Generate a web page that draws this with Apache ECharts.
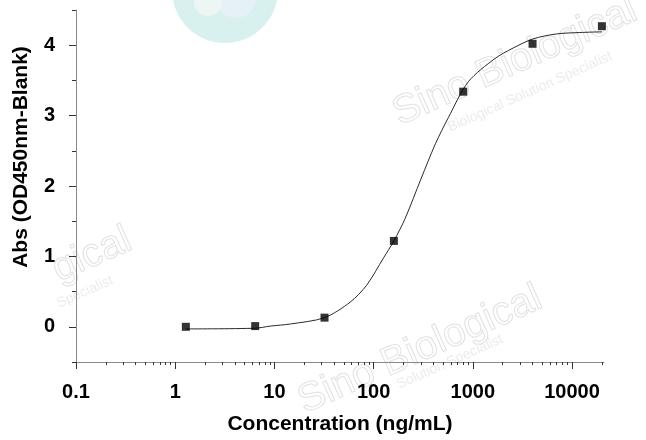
<!DOCTYPE html>
<html>
<head>
<meta charset="utf-8">
<script src="https://cdn.jsdelivr.net/npm/echarts@6/dist/echarts.min.js"></script>
<style>
  html, body { margin: 0; padding: 0; background: #fff; }
  #chart { width: 646px; height: 440px; }
</style>
</head>
<body>
<div id="chart"></div>
<script>
// measured points (ng/mL, OD450 - blank)
const concentration = [1.28, 6.4, 32, 160, 800, 4000, 20000];
const absorbance = [0.00, 0.01, 0.13, 1.22, 3.34, 4.02, 4.27];

// fitted curve
const fitConc = [1.28, 6.4, 9.1, 14.5, 32, 58, 85, 126, 160, 208, 300, 420, 566, 900, 1670, 2550, 4050, 6970, 11940, 20000];
const fitAbs = [-0.03, -0.02, 0.01, 0.04, 0.13, 0.35, 0.59, 0.98, 1.22, 1.54, 2.10, 2.60, 2.97, 3.48, 3.81, 3.96, 4.09, 4.16, 4.18, 4.19];

const xMajorTicks = [0.1, 1, 10, 100, 1000, 10000];
const xLabels = ['0.1', '1', '10', '100', '1000', '10000'];
const yMajorTicks = [0, 1, 2, 3, 4];
const yMinorTicks = [-0.5, 0.5, 1.5, 2.5, 3.5, 4.5];

const xMinorTicks = [];
xMajorTicks.forEach((d) => {
  for (let m = 2; m <= 9; m++) {
    if (d * m <= 21000) xMinorTicks.push(d * m);
  }
});

const font = 'Liberation Sans, Arial, sans-serif';
const axisGrey = '#8a8a8a';
const tickColor = '#333';

const chart = echarts.init(document.getElementById('chart'));

// faint watermark text
const wm = (text, x, y, size, outline) => ({
  type: 'text',
  x, y,
  rotation: 0.42,
  z: -10,
  silent: true,
  style: outline ? {
    text,
    fill: 'rgba(255,255,255,0)',
    stroke: '#e2e2e2',
    lineWidth: 1,
    font: `${size}px ${font}`,
    align: 'center',
    verticalAlign: 'middle',
  } : {
    text,
    fill: '#ececec',
    font: `${size}px ${font}`,
    align: 'center',
    verticalAlign: 'middle',
  },
});

chart.setOption({
  animation: false,
  backgroundColor: '#fff',
  graphic: [
    { type: 'circle', z: -20, silent: true, shape: { cx: 225, cy: -10, r: 53 }, style: { fill: '#d8f1ee' } },
    { type: 'circle', z: -19, silent: true, shape: { cx: 236, cy: -2, r: 20 }, style: { fill: '#e6f0f7' } },
    { type: 'circle', z: -19, silent: true, shape: { cx: 208, cy: 2, r: 14 }, style: { fill: '#eef6f4' } },
    wm('Sino Biological', 515, 62, 40, true),
    wm('Biological Solution Specialist', 530, 92, 14, false),
    wm('Sino Biological', 420, 350, 40, true),
    wm('Solution Specialist', 450, 362, 14, false),
    wm('gical', 92, 255, 40, true),
    wm('Specialist', 85, 292, 14, false),
  ],
  grid: {
    left: 76,
    right: 42,
    top: 10,
    bottom: 75,
    containLabel: false,
  },
  xAxis: [
    {
      type: 'log',
      logBase: 10,
      min: 0.1,
      max: 21000,
      name: 'Concentration (ng/mL)',
      nameLocation: 'middle',
      nameGap: 52,
      nameTextStyle: { fontFamily: font, fontWeight: 'bold', fontSize: 21, color: '#000' },
      axisLine: { show: true, onZero: false, lineStyle: { color: axisGrey, width: 1 } },
      axisTick: { show: true, customValues: xMajorTicks, length: 7, lineStyle: { color: tickColor } },
      axisLabel: {
        show: true,
        customValues: xMajorTicks,
        margin: 20,
        fontFamily: font,
        fontWeight: 'bold',
        fontSize: 20,
        color: '#000',
        formatter: (v) => xLabels[xMajorTicks.indexOf(v)] ?? String(v),
      },
      splitLine: { show: false },
    },
    {
      type: 'log',
      logBase: 10,
      min: 0.1,
      max: 21000,
      position: 'bottom',
      axisLine: { show: false, onZero: false },
      axisTick: { show: true, customValues: xMinorTicks, length: 3, lineStyle: { color: tickColor } },
      axisLabel: { show: false },
      splitLine: { show: false },
    },
  ],
  yAxis: [
    {
      type: 'value',
      min: -0.5,
      max: 4.5,
      name: 'Abs (OD450nm-Blank)',
      nameLocation: 'middle',
      nameGap: 44,
      nameRotate: 90,
      nameTextStyle: { fontFamily: font, fontWeight: 'bold', fontSize: 21, color: '#000', padding: [0, 0, 0, 58] },
      axisLine: { show: true, onZero: false, lineStyle: { color: axisGrey, width: 1 } },
      axisTick: { show: true, customValues: yMajorTicks, length: 7, lineStyle: { color: tickColor } },
      axisLabel: {
        show: true,
        customValues: yMajorTicks,
        margin: 21,
        fontFamily: font,
        fontWeight: 'bold',
        fontSize: 20,
        color: '#000',
      },
      splitLine: { show: false },
    },
    {
      type: 'value',
      min: -0.5,
      max: 4.5,
      position: 'left',
      axisLine: { show: false, onZero: false },
      axisTick: { show: true, customValues: yMinorTicks, length: 4, lineStyle: { color: tickColor } },
      axisLabel: { show: false },
      splitLine: { show: false },
    },
  ],
  series: [
    {
      name: 'fit',
      type: 'line',
      xAxisIndex: 0,
      yAxisIndex: 0,
      data: fitConc.map((c, i) => [c, fitAbs[i]]),
      smooth: 0.3,
      showSymbol: false,
      symbol: 'none',
      lineStyle: { color: '#2a2a2a', width: 1 },
      z: 2,
    },
    {
      name: 'data',
      type: 'scatter',
      xAxisIndex: 0,
      yAxisIndex: 0,
      data: concentration.map((c, i) => [c, absorbance[i]]),
      symbol: 'rect',
      symbolSize: 8,
      itemStyle: { color: '#000' },
      z: 3,
    },
  ],
});
</script>
</body>
</html>
